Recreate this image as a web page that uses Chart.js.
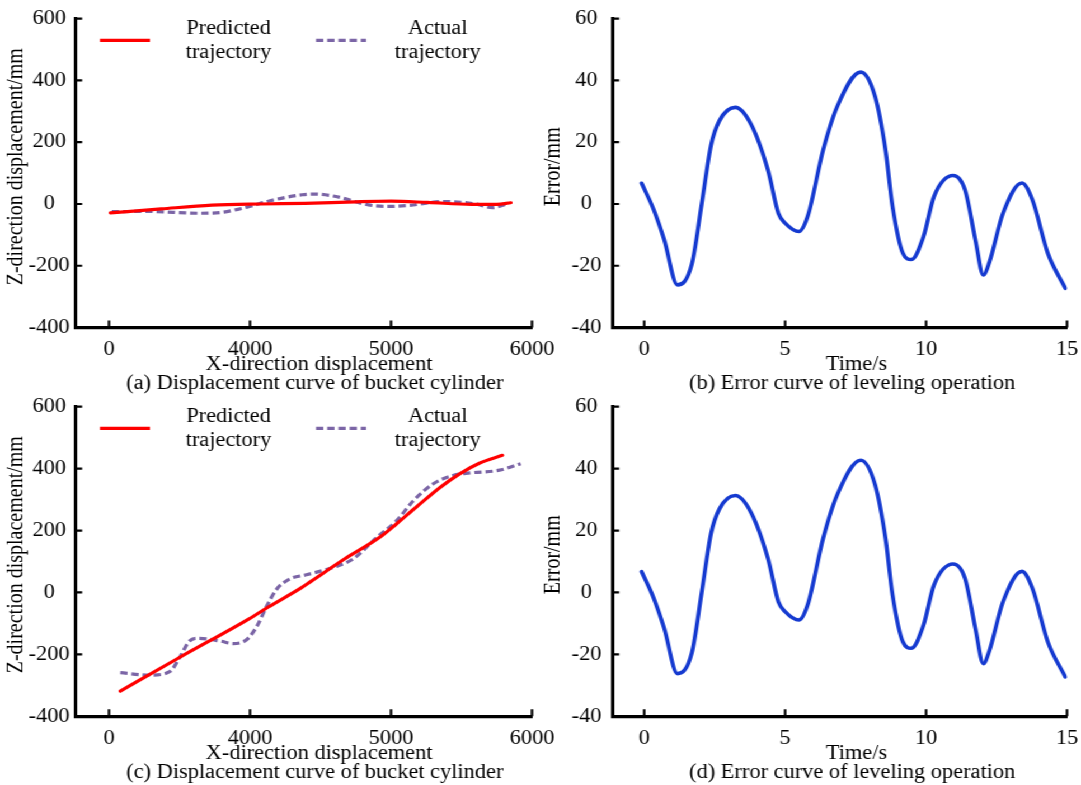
<!doctype html>
<html lang="en">
<head>
<meta charset="utf-8">
<title>Bucket cylinder displacement and leveling error</title>
<script src="https://cdn.jsdelivr.net/npm/chart.js@4.4.1/dist/chart.umd.min.js"></script>
<style>
  html, body { margin: 0; padding: 0; background: #fff; overflow: hidden; }
  /* the source figure is stretched sideways, so the whole drawing is too */
  #figure { position: absolute; left: 0; top: 0; width: 966px; height: 785px;
            transform: scaleX(1.11905); transform-origin: 0 0; }
  #figure canvas { position: absolute; left: 0; top: 0; }
</style>
</head>
<body>
<div id="figure">
  <canvas id="chartA" width="966" height="785"></canvas>
  <canvas id="chartB" width="966" height="785"></canvas>
  <canvas id="chartC" width="966" height="785"></canvas>
  <canvas id="chartD" width="966" height="785"></canvas>
</div>
<script>
const K = 1081 / 966;

// left panels: x slot 0 -> "0", 1 -> "4000", 2 -> "5000", 3 -> "6000"
const dispTicks = [0, 1, 2, 3];
const dispTickLabels = ['0', '4000', '5000', '6000'];
const zTicks = [-400, -200, 0, 200, 400, 600];

// (a) displacement curve, flat run
const predXA = [0.01, 0.37, 0.73, 1.08, 1.39, 1.75, 2.0, 2.26, 2.57, 2.75, 2.85];
const predZA = [-29, -16, -4, 0, 2, 7, 9, 5, -1, -1, 4];
const actXA = [0.02, 0.26, 0.65, 0.8, 0.99, 1.13, 1.37, 1.46, 1.6, 1.84, 1.97, 2.12, 2.38, 2.6, 2.72, 2.82];
const actZA = [-25, -24, -30, -27, -9, 9, 30, 32, 25, -3, -8, -5, 8, 0, -12, 0];

// (c) displacement curve, rising run
const predXC = [0.08, 0.5, 0.99, 1.13, 1.36, 1.43, 1.67, 1.92, 2.04, 2.18, 2.35, 2.49, 2.63, 2.79];
const predZC = [-319, -210, -86, -47, 14, 35, 108, 178, 222, 276, 340, 384, 418, 443];
const actXC = [0.08, 0.29, 0.43, 0.5, 0.57, 0.63, 0.79, 0.88, 0.98, 1.05, 1.12, 1.19, 1.28, 1.4,
               1.59, 1.73, 1.9, 2.04, 2.16, 2.3, 2.44, 2.56, 2.77, 2.92];
const actZC = [-259, -267, -256, -211, -157, -148, -157, -165, -151, -108, -43, 11, 43, 57,
               81, 108, 178, 232, 297, 351, 378, 386, 395, 416];

// (b) and (d) leveling error
const timeTicks = [0, 5, 10, 15];
const errTicks = [-40, -20, 0, 20, 40, 60];
const timeS = [-0.09, 0.34, 0.71, 1.18, 1.69, 2.04, 2.37, 2.67, 3.23, 3.78, 4.39, 4.76, 5.0, 5.49, 5.8,
               6.35, 6.85, 7.68, 8.19, 8.56, 8.81, 9.18, 9.48, 9.91, 10.28, 10.96, 11.38, 11.75,
               12.03, 12.24, 12.73, 13.4, 13.77, 14.32, 14.94];
const errMm = [6.7, -1.9, -11.6, -26.2, -19.5, 0, 19, 27, 31.3, 26, 11, -3, -6.2, -8.9, -4,
               17.5, 31.6, 42.7, 34.8, 17.5, -0.8, -16, -18, -10.5, 2.4, 9.2, 4.6, -11.6,
               -23, -19, -3, 6.8, 1.4, -16, -27.3];

const pts = (xs, ys) => xs.map((x, i) => ({x: x, y: ys[i]}));

Chart.defaults.font.family = '"Liberation Serif", "Times New Roman", serif';
Chart.defaults.font.size = 20;
Chart.defaults.color = '#000';

// axis titles, caption, inward tick marks and the two-line legend
const figureText = {
  id: 'figureText',
  afterDraw(chart, args, opts) {
    const ctx = chart.ctx;
    const area = chart.chartArea;
    const x = chart.scales.x, y = chart.scales.y;
    ctx.save();
    ctx.strokeStyle = '#000';
    ctx.fillStyle = '#000';
    ctx.lineWidth = 2.2;
    ctx.beginPath();
    x.ticks.forEach(t => {
      const px = x.getPixelForValue(t.value);
      ctx.moveTo(px, area.bottom);
      ctx.lineTo(px, area.bottom - 7);
    });
    y.ticks.forEach(t => {
      const py = y.getPixelForValue(t.value);
      ctx.moveTo(area.left, py);
      ctx.lineTo(area.left + 5.5, py);
    });
    ctx.stroke();

    ctx.font = '20px "Liberation Serif", "Times New Roman", serif';
    ctx.textAlign = 'center';
    ctx.textBaseline = 'middle';
    ctx.fillText(opts.xTitle, x.getPixelForValue(opts.xTitleAt), area.bottom + 37);
    ctx.fillText(opts.caption, x.getPixelForValue(opts.captionAt), area.bottom + 56);

    if (opts.legend) {
      const slots = [{from: 21.4, to: 66.1, text: 136.3}, {from: 214.5, to: 259.2, text: 323.2}];
      chart.data.datasets.forEach((ds, i) => {
        const s = slots[i];
        ctx.save();
        ctx.strokeStyle = ds.borderColor;
        ctx.lineWidth = ds.borderWidth;
        ctx.setLineDash(ds.borderDash || []);
        ctx.beginPath();
        ctx.moveTo(area.left + s.from, area.top + 21.6);
        ctx.lineTo(area.left + s.to, area.top + 21.6);
        ctx.stroke();
        ctx.restore();
        ds.label.split(' ').forEach((line, j) => {
          ctx.fillText(line, area.left + s.text, area.top + 10 + j * 24);
        });
      });
    }

    ctx.translate(area.left - 53.5, area.top + 148);
    ctx.rotate(-Math.PI / 2);
    ctx.fillText(opts.yTitle, 0, 0);
    ctx.restore();
  }
};

function panel(id, box, cfg) {
  const chart = new Chart(document.getElementById(id), {
    type: 'line',
    data: {datasets: cfg.datasets},
    options: {
      responsive: false,
      animation: false,
      layout: {autoPadding: false, padding: {left: 0, right: 0, top: 0, bottom: 0}},
      elements: {
        point: {radius: 0},
        line: {cubicInterpolationMode: 'monotone', borderCapStyle: 'round'}
      },
      plugins: {
        legend: {display: false},
        tooltip: {enabled: false},
        figureText: cfg.text
      },
      scales: {
        x: {
          type: 'linear',
          min: cfg.xMin,
          max: cfg.xMax,
          grid: {display: false, drawTicks: false},
          border: {display: true, color: '#000', width: 3.3},
          ticks: {
            padding: 10.5,
            maxRotation: 0,
            autoSkip: false,
            callback: (v, i) => cfg.xLabels ? cfg.xLabels[i] : v
          },
          afterBuildTicks: s => { s.ticks = cfg.xTicks.map(v => ({value: v})); },
          afterFit: s => { s.height = 60; s.paddingLeft = 0; s.paddingRight = 0; }
        },
        y: {
          type: 'linear',
          min: cfg.yTicks[0],
          max: cfg.yTicks[cfg.yTicks.length - 1],
          grid: {display: false, drawTicks: false},
          border: {display: true, color: '#000', width: 3},
          ticks: {padding: cfg.yPad, crossAlign: 'center'},
          afterBuildTicks: s => { s.ticks = cfg.yTicks.map(v => ({value: v})); },
          afterFit: s => { s.width = 60; s.paddingTop = 0; s.paddingBottom = 0; }
        }
      }
    },
    plugins: [figureText]
  });

  // move the plot area to where it sits in the figure
  for (let i = 0; i < 3; i++) {
    const a = chart.chartArea;
    const p = chart.options.layout.padding;
    p.left += box.left / K - a.left;
    p.right += a.right - box.right / K;
    p.top += box.top - a.top;
    p.bottom += a.bottom - box.bottom;
    chart.update('none');
  }
  return chart;
}

const predStyle = {label: 'Predicted trajectory', borderColor: '#ff0000', borderWidth: 3.2};
const actStyle = {label: 'Actual trajectory', borderColor: '#7b65a6', borderWidth: 3.2, borderDash: [6.5, 3.5], borderCapStyle: 'butt'};
const errStyle = {label: 'Error', borderColor: '#153ad0', borderWidth: 3.6};

function dispPanel(id, box, predX, predZ, actX, actZ, caption) {
  return panel(id, box, {
    xMin: -0.234, xMax: 3, xTicks: dispTicks, xLabels: dispTickLabels,
    yTicks: zTicks, yPad: 5.7,
    datasets: [
      Object.assign({data: pts(predX, predZ)}, predStyle),
      Object.assign({data: pts(actX, actZ)}, actStyle)
    ],
    text: {
      xTitle: 'X-direction displacement', xTitleAt: 1.49,
      caption: caption, captionAt: 1.46,
      yTitle: 'Z-direction displacement/mm', legend: true
    }
  });
}

function errPanel(id, box, caption) {
  return panel(id, box, {
    xMin: -1.107, xMax: 15, xTicks: timeTicks,
    yTicks: errTicks, yPad: 10.4,
    datasets: [Object.assign({data: pts(timeS, errMm)}, errStyle)],
    text: {
      xTitle: 'Time/s', xTitleAt: 7.53,
      caption: caption, captionAt: 7.38,
      yTitle: 'Error/mm', legend: false
    }
  });
}

dispPanel('chartA', {left: 76, right: 532, top: 18.7, bottom: 327.5},
  predXA, predZA, actXA, actZA, '(a) Displacement curve of bucket cylinder');
errPanel('chartB', {left: 613, right: 1067, top: 18.7, bottom: 327.5},
  '(b) Error curve of leveling operation');
dispPanel('chartC', {left: 76, right: 532, top: 406.7, bottom: 716.3},
  predXC, predZC, actXC, actZC, '(c) Displacement curve of bucket cylinder');
errPanel('chartD', {left: 613, right: 1067, top: 406.7, bottom: 716.3},
  '(d) Error curve of leveling operation');
</script>
</body>
</html>
